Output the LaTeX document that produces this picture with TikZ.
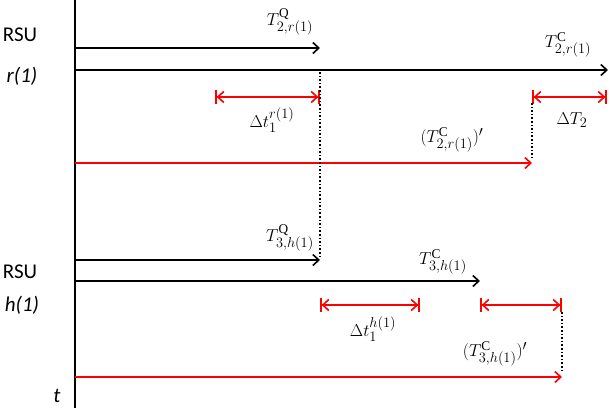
\documentclass[tikz,border=0pt]{standalone}
\usepackage{fontspec}
\setmainfont{Liberation Serif}
\newfontfamily\rsufont{Carlito}
\usetikzlibrary{arrows.meta}
\tikzset{
 blk/.style={black,line width=1.6pt,-{Straight Barb[length=6pt,width=11pt]}},
 redarr/.style={red,line width=1.6pt,-{Straight Barb[length=6pt,width=11pt]}},
 dbl/.style={red,line width=1.6pt,{Bar[width=14pt]Straight Barb[length=6pt,width=11pt]}-{Straight Barb[length=6pt,width=11pt]Bar[width=14pt]}},
 dot/.style={black,line width=1.6pt,dotted},
 rsu/.style={font=\rsufont\fontsize{21}{21}\selectfont,inner sep=0pt},
 lab/.style={font=\fontsize{19}{19}\selectfont,inner sep=0pt}
}
\begin{document}
\begin{tikzpicture}[x=1pt,y=-1pt]
\useasboundingbox (0,0) rectangle (610,408);
\coordinate (top) at (75,0); \coordinate (bot) at (75,408);
\draw[line width=2pt] (top) -- (bot);
\node[rsu] (r1a) at (20,35) {RSU};
\node[rsu] (r1b) at (22,76) {\itshape r(1)};
\node[rsu] (h1a) at (20,272) {RSU};
\node[rsu] (h1b) at (22,305) {\itshape h(1)};
\node[rsu] (t) at (57,396) {\itshape t};
% r(1)
\coordinate (a1) at (75,48); \coordinate (a2) at (320,48);
\draw[blk] (a1) -- (a2);
\node[lab] (l1) at (290,22) {$T^{\mathrm{Q}}_{2,r(1)}$};
\coordinate (b1) at (75,70); \coordinate (b2) at (608,70);
\draw[blk] (b1) -- (b2);
\node[lab] (l2) at (568,45) {$T^{\mathrm{C}}_{2,r(1)}$};
\coordinate (c1) at (215,97); \coordinate (c2) at (320,97);
\draw[dbl] (c1) -- (c2);
\node[lab] (l3) at (272,120) {$\Delta t_1^{r(1)}$};
\coordinate (d1) at (532,97); \coordinate (d2) at (607,97);
\draw[dbl] (d1) -- (d2);
\node[lab] (l4) at (572,120) {$\Delta T_2$};
\coordinate (e1) at (75,163); \coordinate (e2) at (532,163);
\draw[redarr] (e1) -- (e2);
\node[lab] (l5) at (452,140) {$(T^{\mathrm{C}}_{2,r(1)})'$};
\coordinate (p1) at (320,72); \coordinate (p2) at (320,258);
\draw[dot] (p1) -- (p2);
\coordinate (q1) at (532,103); \coordinate (q2) at (532,158);
\draw[dot] (q1) -- (q2);
% h(1)
\coordinate (f1) at (75,260); \coordinate (f2) at (320,260);
\draw[blk] (f1) -- (f2);
\node[lab] (l6) at (290,238) {$T^{\mathrm{Q}}_{3,h(1)}$};
\coordinate (g1) at (75,281); \coordinate (g2) at (480,281);
\draw[blk] (g1) -- (g2);
\node[lab] (l7) at (443,262) {$T^{\mathrm{C}}_{3,h(1)}$};
\coordinate (i1) at (320,305); \coordinate (i2) at (420,305);
\draw[dbl] (i1) -- (i2);
\node[lab] (l8) at (373,329) {$\Delta t_1^{h(1)}$};
\coordinate (j1) at (480,305); \coordinate (j2) at (562,305);
\draw[dbl] (j1) -- (j2);
\coordinate (k1) at (75,377); \coordinate (k2) at (562,377);
\draw[redarr] (k1) -- (k2);
\node[lab] (l9) at (495,354) {$(T^{\mathrm{C}}_{3,h(1)})'$};
\coordinate (m1) at (562,312); \coordinate (m2) at (562,372);
\draw[dot] (m1) -- (m2);
\end{tikzpicture}
\end{document}
